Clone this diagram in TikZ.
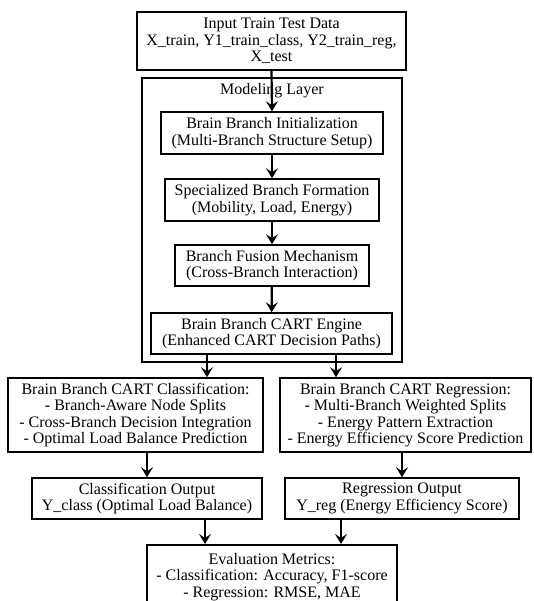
\documentclass[tikz,border=0pt]{standalone}
\usepackage{fontspec}
\setmainfont{Liberation Serif}
\usetikzlibrary{arrows.meta,positioning}

\tikzset{
  box/.style={draw,line width=1.6pt,align=center,inner sep=1pt,
    font=\fontsize{16}{16.5}\selectfont},
  arr/.style={line width=2.2pt,-{Stealth[length=10pt,width=12pt,inset=4pt]}}
}

\begin{document}
\begin{tikzpicture}[x=1pt,y=-1pt,line join=miter]
  \clip (0,0) rectangle (533,601);
  \useasboundingbox (0,0) rectangle (533,601);
  % container
  \draw[line width=1.6pt] (142,78) rectangle (402,362);
  \node[font=\fontsize{16}{16.5}\selectfont] (layer) at (272,91) {Modeling Layer};
  \node[box,minimum width=269pt,minimum height=58pt] (input) at (271.5,41)
    {Input Train Test Data\\X\_train, Y1\_train\_class, Y2\_train\_reg,\\X\_test};
  \node[box,minimum width=222pt,minimum height=42pt] (init) at (272,133)
    {Brain Branch Initialization\\(Multi-Branch Structure Setup)};
  \node[box,minimum width=214pt,minimum height=42pt] (form) at (272,200)
    {Specialized Branch Formation\\(Mobility, Load, Energy)};
  \node[box,minimum width=194pt,minimum height=41pt] (fuse) at (272,265.5)
    {Branch Fusion Mechanism\\(Cross-Branch Interaction)};
  \node[box,minimum width=241pt,minimum height=41pt] (engine) at (271.5,333.5)
    {Brain Branch CART Engine\\(Enhanced CART Decision Paths)};
  \node[box,minimum width=255pt,minimum height=74pt] (cls) at (135.5,415)
    {Brain Branch CART Classification:\\- Branch-Aware Node Splits\\- Cross-Branch Decision Integration\\- Optimal Load Balance Prediction};
  \node[box,minimum width=251pt,minimum height=74pt] (reg) at (405.5,415)
    {Brain Branch CART Regression:\\- Multi-Branch Weighted Splits\\- Energy Pattern Extraction\\- Energy Efficiency Score Prediction};
  \node[box,minimum width=230pt,minimum height=41pt] (clsout) at (147,498.5)
    {Classification Output\\Y\_class (Optimal Load Balance)};
  \node[box,minimum width=234pt,minimum height=41pt] (regout) at (402,498.5)
    {Regression Output\\Y\_reg (Energy Efficiency Score)};
  \node[box,minimum width=250pt,minimum height=64pt,anchor=north] (eval) at (272,544)
    {Evaluation Metrics:\\- Classification: Accuracy, F1-score\\- Regression: RMSE, MAE};
  % arrows
  \coordinate (engL) at (207,354);
  \coordinate (engR) at (336,354);
  \coordinate (outL) at (205,519);
  \coordinate (outR) at (341,519);
  \draw[arr] (input.south) -- (init.north);
  \draw[arr] (init) -- (form);
  \draw[arr] (form) -- (fuse);
  \draw[arr] (fuse) -- (engine);
  \draw[arr] (engL) -- (engL |- cls.north);
  \draw[arr] (engR) -- (engR |- reg.north);
  \draw[arr] (clsout.north |- cls.south) -- (clsout.north);
  \draw[arr] (regout.north |- reg.south) -- (regout.north);
  \draw[arr] (outL) -- (outL |- eval.north);
  \draw[arr] (outR) -- (outR |- eval.north);
\end{tikzpicture}
\end{document}
